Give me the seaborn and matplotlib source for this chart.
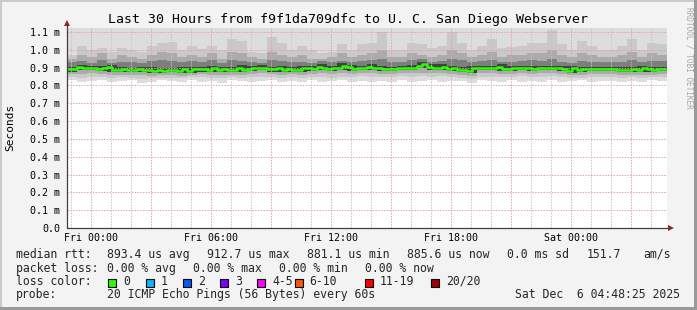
import numpy as np
import pandas as pd
import matplotlib
matplotlib.use("Agg")
import matplotlib.pyplot as plt
import seaborn as sns
from matplotlib.patches import Rectangle, Polygon
from matplotlib.lines import Line2D

sns.set_theme(style="white")
plt.rcParams['font.family'] = ['DejaVu Sans Mono', 'DejaVu Sans']

# ---------------- data ----------------
TITLE = "Last 30 Hours from f9f1da709dfc to U. C. San Diego Webserver"
T_START = -1.2          # hours relative to Fri 00:00 (Thu 22:48)
T_SPAN = 30.0
MEDIAN_STEP = 0.25      # 15 min
SMOKE_STEP = 0.5        # 30 min

# median rtt in ms (120 x 15 min)
median_ms = [
    0.890, 0.890, 0.902, 0.896, 0.896, 0.896, 0.892, 0.896, 0.902, 0.887,
    0.887, 0.892, 0.885, 0.885, 0.892, 0.887, 0.887, 0.881, 0.885, 0.881,
    0.885, 0.885, 0.881, 0.892, 0.881, 0.890, 0.890, 0.890, 0.887, 0.896,
    0.887, 0.892, 0.887, 0.887, 0.900, 0.887, 0.892, 0.896, 0.896, 0.898,
    0.890, 0.890, 0.896, 0.885, 0.892, 0.889, 0.889, 0.896, 0.896, 0.892,
    0.906, 0.896, 0.892, 0.896, 0.896, 0.911, 0.902, 0.892, 0.896, 0.896,
    0.906, 0.896, 0.896, 0.892, 0.892, 0.892, 0.896, 0.896, 0.900, 0.896,
    0.909, 0.919, 0.906, 0.896, 0.896, 0.906, 0.892, 0.896, 0.887, 0.887,
    0.881, 0.896, 0.896, 0.896, 0.896, 0.896, 0.906, 0.892, 0.892, 0.896,
    0.896, 0.896, 0.896, 0.892, 0.896, 0.896, 0.896, 0.896, 0.896, 0.892,
    0.881, 0.896, 0.887, 0.892, 0.892, 0.892, 0.892, 0.892, 0.892, 0.892,
    0.887, 0.887, 0.887, 0.892, 0.887, 0.896, 0.892, 0.887, 0.892, 0.892,
]

# smoke (ping distribution) in ms, 60 x 30 min, from lowest to highest
smoke_p1 = [
    0.828, 0.822, 0.825, 0.830, 0.818, 0.826, 0.832, 0.815, 0.820, 0.828,
    0.824, 0.818, 0.830, 0.822, 0.826, 0.816, 0.829, 0.823, 0.820, 0.827,
    0.831, 0.818, 0.825, 0.822, 0.828, 0.817, 0.826, 0.830, 0.821, 0.824,
    0.819, 0.827, 0.822, 0.829, 0.818, 0.825, 0.830, 0.820, 0.826, 0.823,
    0.815, 0.828, 0.824, 0.821, 0.829, 0.818, 0.826, 0.822, 0.830, 0.817,
    0.825, 0.828, 0.820, 0.824, 0.827, 0.819, 0.826, 0.822, 0.829, 0.824,
]
smoke_p3 = [
    0.846, 0.842, 0.848, 0.845, 0.840, 0.846, 0.843, 0.838, 0.841, 0.844,
    0.842, 0.839, 0.845, 0.847, 0.843, 0.840, 0.846, 0.842, 0.848, 0.850,
    0.845, 0.841, 0.847, 0.844, 0.849, 0.846, 0.843, 0.850, 0.847, 0.852,
    0.849, 0.845, 0.848, 0.851, 0.847, 0.853, 0.849, 0.852, 0.846, 0.842,
    0.838, 0.850, 0.848, 0.845, 0.847, 0.851, 0.846, 0.850, 0.853, 0.845,
    0.840, 0.844, 0.848, 0.846, 0.849, 0.843, 0.845, 0.842, 0.846, 0.848,
]
smoke_p5 = [
    0.862, 0.866, 0.868, 0.864, 0.860, 0.861, 0.858, 0.860, 0.855, 0.856,
    0.858, 0.855, 0.857, 0.863, 0.860, 0.861, 0.859, 0.861, 0.865, 0.868,
    0.863, 0.858, 0.862, 0.861, 0.865, 0.868, 0.864, 0.868, 0.865, 0.868,
    0.869, 0.864, 0.866, 0.868, 0.869, 0.872, 0.868, 0.869, 0.865, 0.860,
    0.855, 0.868, 0.869, 0.865, 0.864, 0.868, 0.865, 0.869, 0.868, 0.865,
    0.856, 0.860, 0.864, 0.865, 0.864, 0.860, 0.861, 0.860, 0.861, 0.864,
]
smoke_p8 = [
    0.878, 0.884, 0.884, 0.880, 0.875, 0.875, 0.873, 0.875, 0.869, 0.869,
    0.873, 0.869, 0.869, 0.878, 0.875, 0.875, 0.875, 0.875, 0.880, 0.884,
    0.878, 0.873, 0.877, 0.877, 0.880, 0.884, 0.880, 0.884, 0.880, 0.884,
    0.884, 0.880, 0.880, 0.884, 0.884, 0.896, 0.884, 0.884, 0.880, 0.875,
    0.869, 0.884, 0.884, 0.880, 0.880, 0.884, 0.880, 0.884, 0.884, 0.880,
    0.869, 0.875, 0.880, 0.880, 0.880, 0.875, 0.875, 0.875, 0.875, 0.880,
]
smoke_p13 = [
    0.905, 0.915, 0.910, 0.910, 0.915, 0.906, 0.900, 0.906, 0.902, 0.900,
    0.900, 0.906, 0.905, 0.905, 0.910, 0.906, 0.902, 0.914, 0.910, 0.912,
    0.905, 0.910, 0.906, 0.910, 0.910, 0.920, 0.910, 0.925, 0.916, 0.910,
    0.920, 0.910, 0.906, 0.910, 0.914, 0.932, 0.920, 0.920, 0.910, 0.902,
    0.910, 0.910, 0.910, 0.920, 0.910, 0.910, 0.910, 0.910, 0.910, 0.910,
    0.910, 0.906, 0.906, 0.906, 0.906, 0.902, 0.906, 0.910, 0.906, 0.906,
]
smoke_p15 = [
    0.930, 0.935, 0.928, 0.940, 0.926, 0.934, 0.930, 0.927, 0.936, 0.942,
    0.938, 0.929, 0.935, 0.931, 0.940, 0.927, 0.945, 0.938, 0.930, 0.926,
    0.944, 0.936, 0.929, 0.934, 0.928, 0.935, 0.931, 0.939, 0.930, 0.936,
    0.940, 0.948, 0.931, 0.930, 0.940, 0.950, 0.932, 0.935, 0.950, 0.940,
    0.930, 0.936, 0.944, 0.930, 0.934, 0.935, 0.940, 0.938, 0.948, 0.934,
    0.928, 0.938, 0.934, 0.929, 0.930, 0.934, 0.942, 0.930, 0.938, 0.935,
]
smoke_p17 = [
    0.95, 0.97, 0.96, 0.98, 0.95, 0.97, 0.96, 0.95, 0.97, 0.99,
    0.98, 0.96, 0.97, 0.96, 0.98, 0.95, 0.99, 0.98, 0.96, 0.95,
    0.99, 0.97, 0.96, 0.97, 0.95, 0.95, 0.96, 0.98, 0.96, 0.97,
    0.98, 1.00, 0.96, 0.96, 0.98, 0.97, 0.96, 0.97, 1.00, 0.98,
    0.96, 0.97, 0.99, 0.96, 0.97, 0.97, 0.98, 0.98, 1.00, 0.97,
    0.96, 0.98, 0.97, 0.96, 0.96, 0.97, 0.99, 0.96, 0.98, 0.97,
]
smoke_p19 = [
    0.97, 1.02, 1.00, 1.01, 0.99, 1.01, 1.00, 0.99, 1.02, 1.04,
    1.045, 1.00, 1.02, 1.005, 1.02, 1.00, 1.06, 1.05, 0.99, 0.98,
    1.07, 1.04, 1.00, 1.02, 1.00, 0.98, 0.99, 1.03, 1.00, 1.03,
    1.04, 1.10, 1.00, 1.00, 1.04, 1.03, 1.01, 1.02, 1.10, 1.04,
    1.00, 1.02, 1.06, 1.01, 1.015, 1.02, 1.04, 1.04, 1.11, 1.03,
    1.00, 1.05, 1.02, 1.00, 1.00, 1.02, 1.06, 1.00, 1.04, 1.03,
]
SMOKE_TOP = 1.2   # highest pings are above the visible range (clipped)

x_tick_pos = [0, 6, 12, 18, 24]
x_tick_labels = ["Fri 00:00", "Fri 06:00", "Fri 12:00", "Fri 18:00", "Sat 00:00"]
y_tick_pos = [0.0, 0.1, 0.2, 0.3, 0.4, 0.5, 0.6, 0.7, 0.8, 0.9, 1.0, 1.1]
y_tick_labels = ["0.0", "0.1 m", "0.2 m", "0.3 m", "0.4 m", "0.5 m", "0.6 m",
                 "0.7 m", "0.8 m", "0.9 m", "1.0 m", "1.1 m"]
Y_MAX = 1.12

loss_labels = ["0", "1", "2", "3", "4-5", "6-10", "11-19", "20/20"]
loss_colors = ["#26ff00", "#00b8ff", "#0059ff", "#7e00ff", "#ff00ff",
               "#ff5500", "#ff0000", "#a10000"]

rtt_stats = ["893.4 us avg", "912.7 us max", "881.1 us min", "885.6 us now",
             "0.0 ms sd", "151.7", "am/s"]
loss_stats = ["0.00 % avg", "0.00 % max", "0.00 % min", "0.00 % now"]
probe_text = "20 ICMP Echo Pings (56 Bytes) every 60s"
date_text = "Sat Dec  6 04:48:25 2025"

# ---------------- figure ----------------
W, H = 697, 310
BG = "#f3f3f3"
fig = plt.figure(figsize=(W / 100, H / 100), dpi=100, facecolor=BG)


def fx(x):
    return x / W


def fy(y):
    return 1 - y / H


AX_L, AX_R, AX_B = 67, 667, 228
AX_T = AX_B - Y_MAX * 178.2
ax = fig.add_axes([fx(AX_L), fy(AX_B), (AX_R - AX_L) / W, (AX_B - AX_T) / H])
ax.set_facecolor("white")

# smoke
n_s = len(smoke_p1)
xs = T_START + SMOKE_STEP * np.arange(n_s + 1)


def ext(a):
    a = np.asarray(a, dtype=float)
    return np.append(a, a[-1])


layers = [
    (smoke_p1, [SMOKE_TOP] * n_s, "#dddddd"),
    (smoke_p3, smoke_p19, "#c9c9c9"),
    (smoke_p5, smoke_p17, "#ababab"),
    (smoke_p8, smoke_p15, "#7e7e7e"),
    (smoke_p8, smoke_p13, "#424242"),
]
for lo, hi, col in layers:
    ax.fill_between(xs, ext(lo), ext(hi), step="post", color=col,
                    linewidth=0, edgecolor="none", zorder=1)

# median line
n_m = len(median_ms)
xm = T_START + MEDIAN_STEP * np.arange(n_m + 1)
df = pd.DataFrame({"t": xm, "ms": ext(median_ms)})
sns.lineplot(data=df, x="t", y="ms", drawstyle="steps-post", color=loss_colors[0],
             lw=1.8, estimator=None, ax=ax, zorder=4)

ax.set_xlim(T_START, T_START + T_SPAN)
ax.set_ylim(0, Y_MAX)
ax.set_xlabel("")
ax.set_ylabel("")

# ticks / grid
maj = list(range(0, 28, 3))
ax.set_xticks(maj)
ax.set_xticklabels([x_tick_labels[x_tick_pos.index(m)] if m in x_tick_pos else "" for m in maj])
ax.set_xticks(list(range(-1, 29)), minor=True)
ax.set_yticks(y_tick_pos)
ax.set_yticklabels(y_tick_labels)
ax.tick_params(axis="both", which="both", labelsize=7.2, colors="#303030",
               labelcolor="black", length=1.5, width=0.7, direction="out")
ax.tick_params(axis="x", which="major", pad=2)
ax.tick_params(axis="y", which="major", pad=3.5)
ax.set_axisbelow(False)
ax.grid(True, which="major", axis="both", color="#e3a3a3", lw=0.72,
        linestyle=(0, (1.4, 1.4)))
ax.grid(True, which="minor", axis="x", color="#c4c4c4", lw=0.72,
        linestyle=(0, (1.4, 1.4)))
for s in ax.spines.values():
    s.set_visible(False)

# axes lines with arrows
AXIS_C = "#404040"
ARROW_C = "#a42020"
fig.add_artist(Line2D([fx(AX_L), fx(AX_L)], [fy(AX_B), fy(24)], color=AXIS_C, lw=0.9))
fig.add_artist(Line2D([fx(AX_L), fx(669)], [fy(AX_B), fy(AX_B)], color=AXIS_C, lw=0.9))
fig.add_artist(Polygon([(fx(AX_L - 3), fy(26)), (fx(AX_L + 3), fy(26)), (fx(AX_L), fy(20))],
                       closed=True, color=ARROW_C, lw=0))
fig.add_artist(Polygon([(fx(668), fy(AX_B - 3)), (fx(668), fy(AX_B + 3)), (fx(674), fy(AX_B))],
                       closed=True, color=ARROW_C, lw=0))

# title and labels
fig.text(fx(348), fy(23.5), TITLE, ha="center", va="baseline", fontsize=9.5, color="black")
fig.text(fx(10), fy(127.5), "Seconds", rotation=90, ha="center", va="center",
         fontsize=8, color="black")
fig.text(fx(688.5), fy(58), "RRDTOOL / TOBI OETIKER", rotation=270, ha="center",
         va="center", fontsize=5.6, color="#a8a8a8")

# legend text
LF = 8.3
rows = [257.7, 271.7, 285.0, 298.3]
fig.text(fx(16), fy(rows[0]), "median rtt:", fontsize=LF, va="baseline")
for xpos, s in zip([107, 207, 307, 407, 507, 587, 643], rtt_stats):
    fig.text(fx(xpos), fy(rows[0]), s, fontsize=LF, va="baseline")
fig.text(fx(16), fy(rows[1]), "packet loss:", fontsize=LF, va="baseline")
for xpos, s in zip([107, 193, 279, 365], loss_stats):
    fig.text(fx(xpos), fy(rows[1]), s, fontsize=LF, va="baseline")
fig.text(fx(16), fy(rows[2]), "loss color:", fontsize=LF, va="baseline")
box_x = [108, 145.5, 183, 220, 257, 294.5, 365, 431]
for bx, lab, col in zip(box_x, loss_labels, loss_colors):
    fig.add_artist(Rectangle((fx(bx), fy(286.5)), 8 / W, 8 / H, transform=fig.transFigure,
                             facecolor=col, edgecolor="black", lw=0.8))
    fig.text(fx(bx + 15), fy(rows[2]), lab, fontsize=LF, va="baseline")
fig.text(fx(16), fy(rows[3]), "probe:", fontsize=LF, va="baseline")
fig.text(fx(107), fy(rows[3]), probe_text, fontsize=LF, va="baseline")
fig.text(fx(680), fy(rows[3]), date_text, fontsize=LF, va="baseline", ha="right")

# frame shading
fig.add_artist(Rectangle((0, 0), 2 / W, 1, transform=fig.transFigure, color="#cbcbcb", lw=0))
fig.add_artist(Rectangle((0, 1 - 2 / H), 1, 2 / H, transform=fig.transFigure, color="#cbcbcb", lw=0))
fig.add_artist(Rectangle((1 - 3 / W, 0), 3 / W, 1, transform=fig.transFigure, color="#999999", lw=0))
fig.add_artist(Rectangle((0, 0), 1, 3 / H, transform=fig.transFigure, color="#999999", lw=0))

fig.savefig("out.png", dpi=100, facecolor=BG)
